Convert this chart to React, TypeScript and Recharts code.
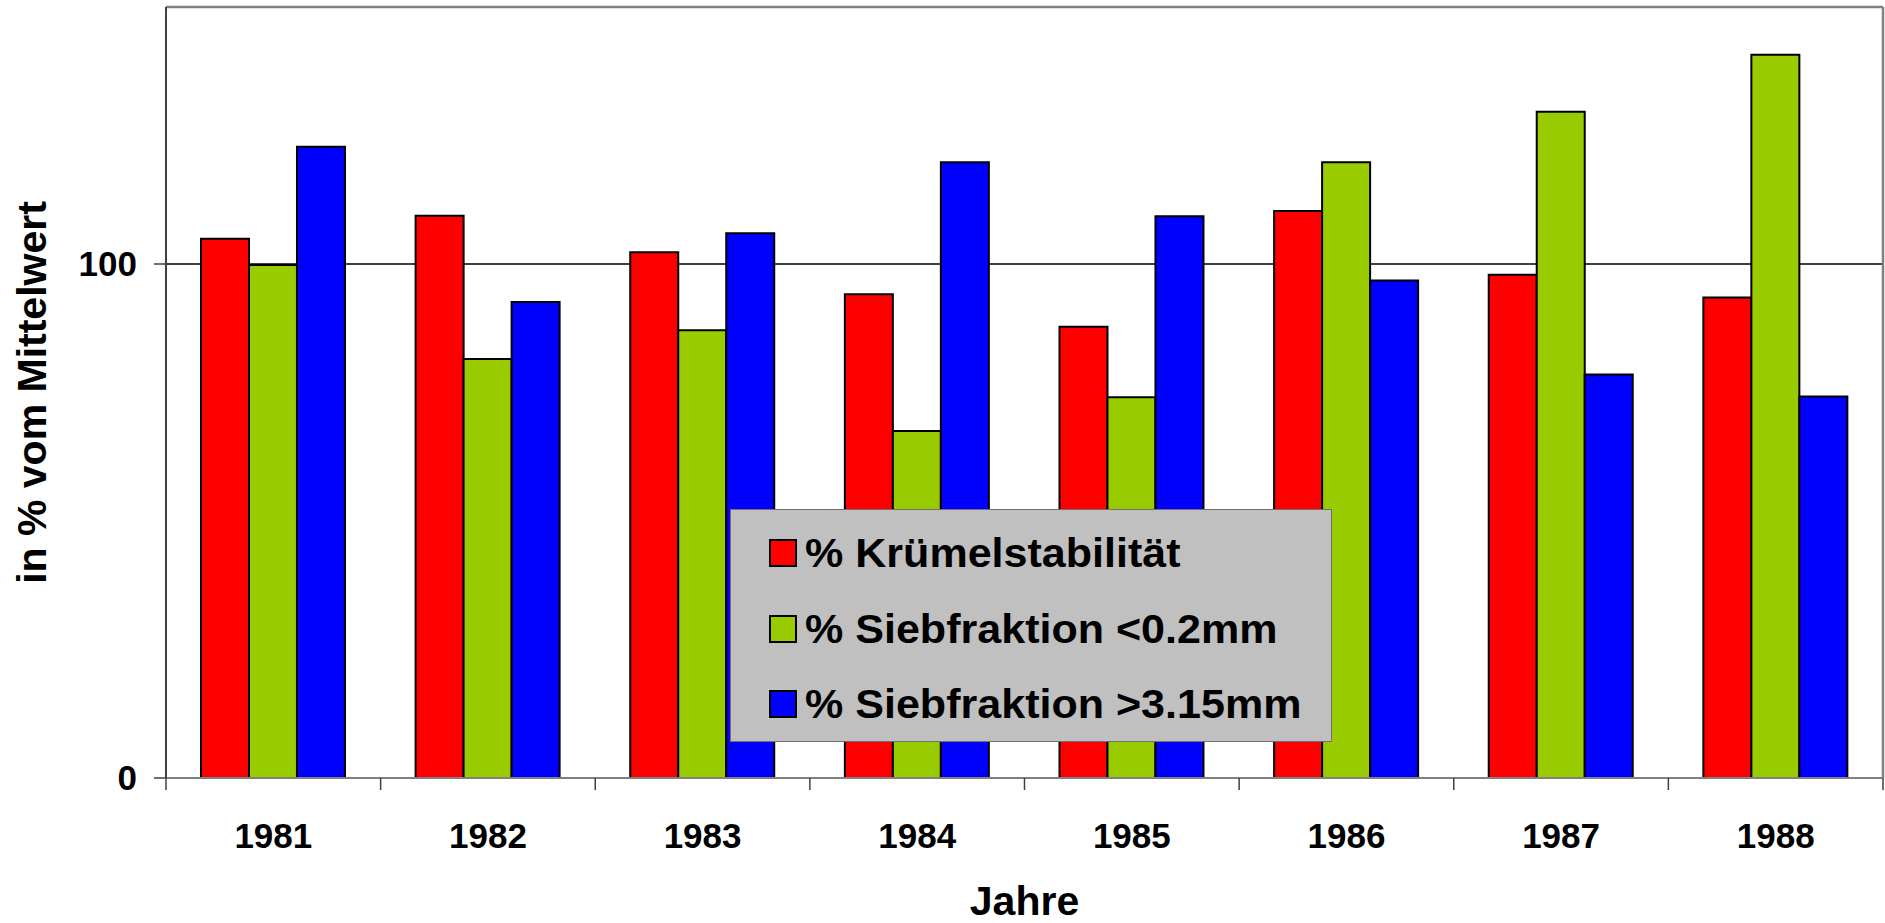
import React from 'react';
import { BarChart, Bar, XAxis, YAxis, CartesianGrid, ReferenceLine, Legend } from 'recharts';

const years = ['1981', '1982', '1983', '1984', '1985', '1986', '1987', '1988'];
const kruemel = [104.9, 109.4, 102.3, 94.1, 87.8, 110.3, 97.9, 93.5];
const siebFein = [99.8, 81.5, 87.1, 67.5, 74.1, 119.8, 129.6, 140.7];
const siebGrob = [122.8, 92.6, 106.0, 119.8, 109.3, 96.8, 78.5, 74.2];

const seriesNames = ['% Krümelstabilität', '% Siebfraktion <0.2mm', '% Siebfraktion >3.15mm'];
const seriesColors = ['#FF0000', '#99CC00', '#0000FF'];
const yTicks = [0, 100];

const data = years.map((y, i) => ({
  year: y,
  kruemel: kruemel[i],
  siebFein: siebFein[i],
  siebGrob: siebGrob[i],
}));

const FONT = '"Liberation Sans", Arial, Helvetica, sans-serif';
const X_TICK_MARGIN = 45;
const EDGE_TICK = 12;

const YearTick = (props: any) => {
  const { x, y, payload, width, visibleTicksCount, index } = props;
  const n = visibleTicksCount || years.length;
  const band = typeof width === 'number' ? width / n : 0;
  const axisY = y - X_TICK_MARGIN;
  return (
    <g>
      {band > 0 && (
        <line x1={x - band / 2} x2={x - band / 2} y1={axisY} y2={axisY + EDGE_TICK} stroke="#404040" strokeWidth={1.5} />
      )}
      {band > 0 && index === n - 1 && (
        <line x1={x + band / 2} x2={x + band / 2} y1={axisY} y2={axisY + EDGE_TICK} stroke="#404040" strokeWidth={1.5} />
      )}
      <text
        x={x}
        y={y}
        dy="0.71em"
        textAnchor="middle"
        fontFamily={FONT}
        fontWeight="bold"
        fontSize={35}
        fill="#000"
      >
        {payload.value}
      </text>
    </g>
  );
};

const YTitle = (props: any) => {
  const vb = props.viewBox || { x: 0, y: 0, width: 0, height: 0 };
  const cx = vb.x + 32;
  const cy = vb.y + vb.height / 2;
  return (
    <text
      x={cx}
      y={cy}
      transform={`rotate(-90 ${cx} ${cy})`}
      textAnchor="middle"
      dominantBaseline="central"
      fontFamily={FONT}
      fontWeight="bold"
      fontSize={41}
      fill="#000"
    >
      in % vom Mittelwert
    </text>
  );
};

const XTitle = (props: any) => {
  const vb = props.viewBox || { x: 0, y: 0, width: 0, height: 0 };
  return (
    <text
      x={vb.x + vb.width / 2}
      y={vb.y + 137}
      textAnchor="middle"
      fontFamily={FONT}
      fontWeight="bold"
      fontSize={41}
      fill="#000"
    >
      Jahre
    </text>
  );
};

const LegendBox = (props: any) => {
  const payload = props.payload || [];
  return (
    <div
      style={{
        width: 602,
        height: 233,
        background: '#C0C0C0',
        border: '1.5px solid #707070',
        boxSizing: 'border-box',
        position: 'relative',
        fontFamily: FONT,
      }}
    >
      {payload.map((p: any, i: number) => (
        <div
          key={i}
          style={{
            position: 'absolute',
            left: 38,
            top: 43 + i * 75.5 - 24,
            height: 48,
            display: 'flex',
            alignItems: 'center',
            whiteSpace: 'nowrap',
          }}
        >
          <span
            style={{
              display: 'inline-block',
              width: 28,
              height: 28,
              boxSizing: 'border-box',
              background: p.color,
              border: '2px solid #000',
              marginRight: 8,
            }}
          />
          <span
            style={{
              display: 'inline-block',
              fontSize: 41,
              fontWeight: 'bold',
              color: '#000',
              transform: 'scaleX(1.05)',
              transformOrigin: 'left center',
              lineHeight: '48px',
            }}
          >
            {p.value}
          </span>
        </div>
      ))}
    </div>
  );
};

export default function App() {
  return (
    <div style={{ position: 'absolute', left: 0, top: 0, width: 1885, height: 923, background: '#fff' }}>
      <BarChart
        width={1885}
        height={923}
        data={data}
        margin={{ top: 7, right: 0, bottom: 0, left: 0 }}
        barCategoryGap="16.3%"
        barGap={0}
      >
        <CartesianGrid vertical={false} stroke="#000" strokeWidth={1.5} />
        <XAxis
          dataKey="year"
          height={145}
          tickSize={0}
          tickMargin={X_TICK_MARGIN}
          tickLine={false}
          axisLine={{ stroke: '#808080', strokeWidth: 2 }}
          tick={<YearTick />}
          interval={0}
          label={<XTitle />}
        />
        <YAxis
          width={166}
          domain={[0, 150]}
          ticks={yTicks}
          tickSize={12}
          tickMargin={17}
          axisLine={{ stroke: '#404040', strokeWidth: 2 }}
          tickLine={{ stroke: '#404040', strokeWidth: 1.5 }}
          tick={{ fill: '#000', fontSize: 35, fontWeight: 'bold', fontFamily: FONT }}
          label={<YTitle />}
        />
        <YAxis
          yAxisId="right"
          orientation="right"
          width={2}
          domain={[0, 150]}
          tick={false}
          tickLine={false}
          axisLine={{ stroke: '#808080', strokeWidth: 2.5 }}
        />
        <ReferenceLine y={150} stroke="#808080" strokeWidth={2.5} />
        <Bar dataKey="kruemel" name={seriesNames[0]} fill={seriesColors[0]} stroke="#000" strokeWidth={2} isAnimationActive={false} />
        <Bar dataKey="siebFein" name={seriesNames[1]} fill={seriesColors[1]} stroke="#000" strokeWidth={2} isAnimationActive={false} />
        <Bar dataKey="siebGrob" name={seriesNames[2]} fill={seriesColors[2]} stroke="#000" strokeWidth={2} isAnimationActive={false} />
        <Legend
          layout="vertical"
          verticalAlign="middle"
          align="center"
          wrapperStyle={{ left: 730, top: 509, width: 602, height: 233 }}
          content={<LegendBox />}
        />
      </BarChart>
    </div>
  );
}
